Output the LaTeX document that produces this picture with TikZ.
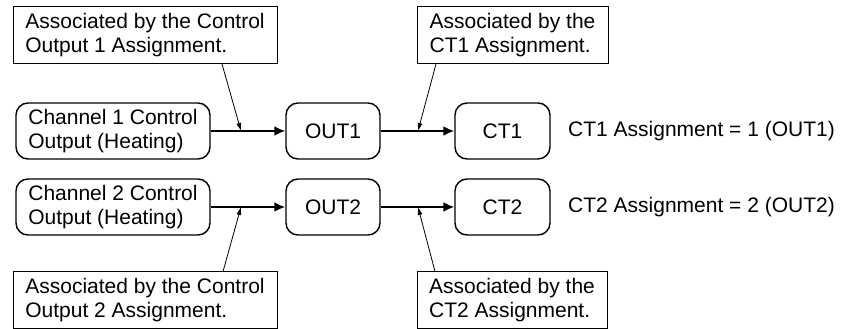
\documentclass[tikz,border=0pt]{standalone}
\usepackage{fontspec}
\setmainfont{Liberation Sans}
\usetikzlibrary{arrows.meta}
\begin{document}
\begin{tikzpicture}[x=1pt,y=-1pt,
  every node/.style={font=\fontsize{21}{24}\selectfont, inner sep=0pt, align=left},
  rbox/.style={draw, line width=1.4pt, rounded corners=12pt, minimum height=56pt},
  callout/.style={draw, line width=1pt, minimum height=57pt},
  mainarrow/.style={line width=2pt, -{Latex[length=11pt,width=10pt]}},
  thinarrow/.style={line width=0.8pt, -{Latex[length=8pt,width=5pt]}}
]
\useasboundingbox (0,0) rectangle (843,329);
% row 1
\node[rbox, minimum width=194pt] (ch1) at (113,131) {Channel 1 Control\\Output (Heating)};
\node[rbox, minimum width=94pt] (out1) at (333,131) {OUT1};
\node[rbox, minimum width=95pt] (ct1) at (502.5,131) {CT1};
\node[anchor=west] (t1) at (568,131) {CT1 Assignment = 1 (OUT1)};
% row 2
\node[rbox, minimum width=194pt] (ch2) at (113,207) {Channel 2 Control\\Output (Heating)};
\node[rbox, minimum width=94pt] (out2) at (333,207) {OUT2};
\node[rbox, minimum width=95pt] (ct2) at (502.5,207) {CT2};
\node[anchor=west] (t2) at (568,207) {CT2 Assignment = 2 (OUT2)};
% callouts
\node[callout, minimum width=264pt] (c1) at (145,35.5) {Associated by the Control\\Output 1 Assignment.};
\node[callout, minimum width=191pt] (c2) at (512.5,35.5) {Associated by the\\CT1 Assignment.};
\node[callout, minimum width=264pt] (c3) at (145,300) {Associated by the Control\\Output 2 Assignment.};
\node[callout, minimum width=190pt] (c4) at (512,300) {Associated by the\\CT2 Assignment.};
% main arrows
\draw[mainarrow] (ch1) -- (out1);
\draw[mainarrow] (out1) -- (ct1);
\draw[mainarrow] (ch2) -- (out2);
\draw[mainarrow] (out2) -- (ct2);
% junction points on the arrows
\coordinate (j1) at (241,131);
\coordinate (j2) at (418,131);
\coordinate (j3) at (241,207);
\coordinate (j4) at (418,207);
% callout start points
\coordinate (s1) at (222,64);
\coordinate (s2) at (436,64);
\coordinate (s3) at (223,271.5);
\coordinate (s4) at (435,271.5);
\draw[thinarrow] (s1) -- (j1);
\draw[thinarrow] (s2) -- (j2);
\draw[thinarrow] (s3) -- (j3);
\draw[thinarrow] (s4) -- (j4);
\end{tikzpicture}
\end{document}
